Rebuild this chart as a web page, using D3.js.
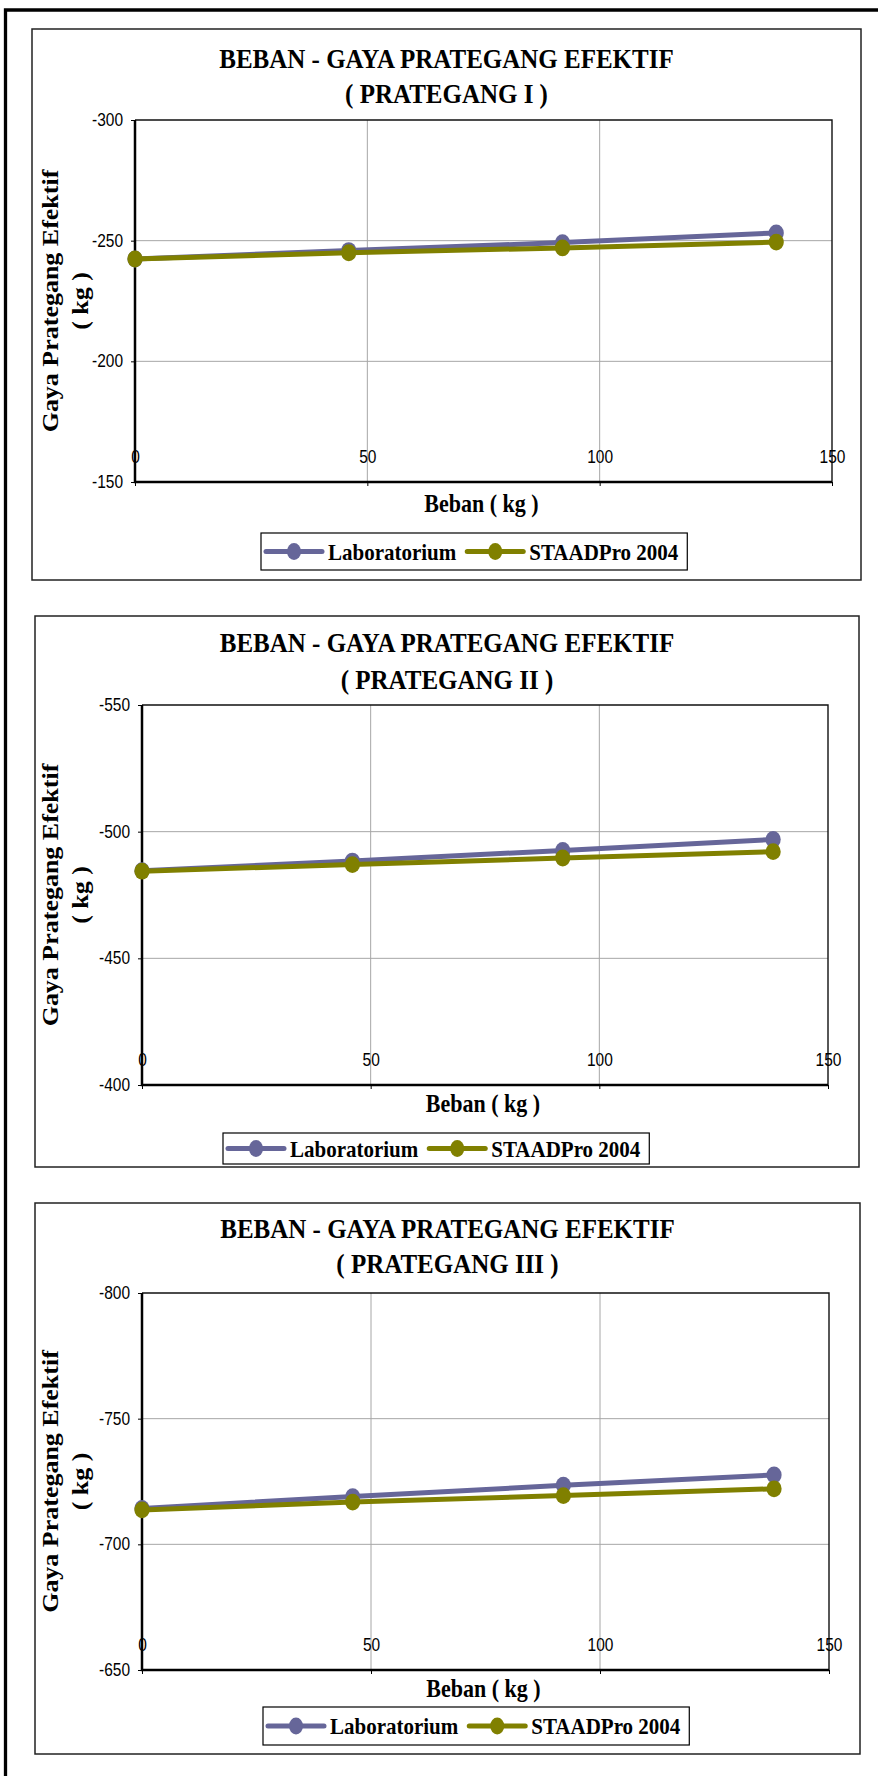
<!DOCTYPE html>
<html>
<head>
<meta charset="utf-8">
<script src="https://cdn.jsdelivr.net/npm/d3@7"></script>
<style>
  body { margin: 0; background: #fff; }
  svg { display: block; }
</style>
</head>
<body>
<svg id="chart"></svg>
<script>
const width = 878;
const height = 1776;

// data
const beban = [0, 46, 92, 138];
const xTicks = [0, 50, 100, 150];
const seriesNames = ["Laboratorium", "STAADPro 2004"];
const seriesColors = ["#666699", "#808000"];
const chartTitle = "BEBAN - GAYA PRATEGANG EFEKTIF";
const subTitles = ["( PRATEGANG I )", "( PRATEGANG II )", "( PRATEGANG III )"];
const xTitle = "Beban ( kg )";
const yTitle = ["Gaya Prategang Efektif", "( kg )"];

const yTicks1 = [-300, -250, -200, -150];
const yTicks2 = [-550, -500, -450, -400];
const yTicks3 = [-800, -750, -700, -650];

const lab1 = [-242.4, -245.9, -249.2, -253.2];
const staad1 = [-242.4, -245.0, -247.0, -249.4];
const lab2 = [-484.6, -488.4, -492.6, -496.9];
const staad2 = [-484.4, -487.0, -489.6, -492.1];
const lab3 = [-714.3, -719.0, -723.5, -727.6];
const staad3 = [-713.7, -716.8, -719.4, -722.1];

// layout of the three panels
const panels = [
  { box: {x: 32, y: 29, w: 829, h: 551}, plot: {l: 135, t: 120, r: 832, b: 482},
    titleY: [68, 103], xTitleY: 512, legend: {x: 261, y: 533, h: 37},
    yTicks: yTicks1, series: [lab1, staad1], sub: subTitles[0] },
  { box: {x: 35, y: 616, w: 824, h: 551}, plot: {l: 142, t: 705, r: 828, b: 1085},
    titleY: [652, 689], xTitleY: 1112, legend: {x: 223, y: 1133, h: 31},
    yTicks: yTicks2, series: [lab2, staad2], sub: subTitles[1] },
  { box: {x: 35, y: 1203, w: 825, h: 551}, plot: {l: 142, t: 1293, r: 829, b: 1670},
    titleY: [1238, 1273], xTitleY: 1697, legend: {x: 263, y: 1707, h: 38},
    yTicks: yTicks3, series: [lab3, staad3], sub: subTitles[2] }
];

const SY = 1.13; // the original picture is a bit stretched vertically
const serif = "'Times New Roman', 'Liberation Serif', serif";
const sans = "Arial, 'Liberation Sans', sans-serif";

const svg = d3.select('svg#chart').attr('width', width).attr('height', height);

// outer page frame (left and top only)
svg.append('path')
  .attr('d', 'M5.5,' + height + ' V10 H' + width)
  .attr('fill', 'none').attr('stroke', '#000').attr('stroke-width', 3.3);

function stretchText(g, x, y, str, size, family, weight, anchor) {
  return g.append('text')
    .attr('transform', 'translate(' + x + ',' + y + ') scale(1,' + SY + ')')
    .attr('font-family', family).attr('font-size', size)
    .attr('font-weight', weight).attr('text-anchor', anchor)
    .attr('fill', '#000')
    .text(str);
}

panels.forEach(p => {
  const g = svg.append('g');
  const b = p.box, pl = p.plot;

  g.append('rect')
    .attr('x', b.x).attr('y', b.y).attr('width', b.w).attr('height', b.h)
    .attr('fill', '#fff').attr('stroke', '#222').attr('stroke-width', 1.5);

  const x = d3.scaleLinear().domain([xTicks[0], xTicks[xTicks.length - 1]]).range([pl.l, pl.r]);
  const y = d3.scaleLinear()
    .domain([p.yTicks[p.yTicks.length - 1], p.yTicks[0]])
    .range([pl.b, pl.t]);

  // gridlines
  g.append('g').selectAll('line.hg').data(p.yTicks.slice(1, -1)).enter().append('line')
    .attr('x1', pl.l).attr('x2', pl.r)
    .attr('y1', d => y(d)).attr('y2', d => y(d))
    .attr('stroke', '#a6a6a6').attr('stroke-width', 1);
  g.append('g').selectAll('line.vg').data(xTicks.slice(1, -1)).enter().append('line')
    .attr('x1', d => x(d)).attr('x2', d => x(d))
    .attr('y1', pl.t).attr('y2', pl.b)
    .attr('stroke', '#a6a6a6').attr('stroke-width', 1);

  // plot border top / right
  g.append('path')
    .attr('d', 'M' + pl.l + ',' + pl.t + ' H' + pl.r + ' V' + pl.b)
    .attr('fill', 'none').attr('stroke', '#111').attr('stroke-width', 1.4);

  // y axis
  const ya = g.append('g').attr('transform', 'translate(' + pl.l + ',0)')
    .call(d3.axisLeft(y).tickValues(p.yTicks).tickSize(4).tickPadding(8).tickFormat(d => String(d)));
  ya.select('.domain').remove();
  ya.selectAll('.tick line').attr('stroke', '#000');
  ya.selectAll('.tick text')
    .attr('font-family', sans).attr('font-size', 15.5).attr('fill', '#000')
    .attr('transform', 'scale(1,' + SY + ')');

  // x tick marks below the axis
  const xm = g.append('g').attr('transform', 'translate(0,' + pl.b + ')')
    .call(d3.axisBottom(x).tickValues(xTicks).tickSize(4).tickFormat(''));
  xm.select('.domain').remove();
  xm.selectAll('.tick line').attr('stroke', '#000');

  // x labels sit just above the axis line
  const xl = g.append('g').attr('transform', 'translate(0,' + pl.b + ')')
    .call(d3.axisTop(x).tickValues(xTicks).tickSize(0).tickPadding(19).tickFormat(d => String(d)));
  xl.select('.domain').remove();
  xl.selectAll('.tick text')
    .attr('font-family', sans).attr('font-size', 15.5).attr('fill', '#000')
    .attr('y', -19 / SY)
    .attr('transform', 'scale(1,' + SY + ')');

  // axis lines
  g.append('path')
    .attr('d', 'M' + pl.l + ',' + pl.t + ' V' + pl.b + ' H' + pl.r)
    .attr('fill', 'none').attr('stroke', '#000').attr('stroke-width', 2.5);

  // series
  p.series.forEach((vals, i) => {
    const pts = beban.map((d, j) => [d, vals[j]]);
    g.append('path')
      .datum(pts)
      .attr('d', d3.line().x(d => x(d[0])).y(d => y(d[1])))
      .attr('fill', 'none').attr('stroke', seriesColors[i]).attr('stroke-width', 5)
      .attr('stroke-linejoin', 'round');
    g.append('g').selectAll('ellipse').data(pts).enter().append('ellipse')
      .attr('cx', d => x(d[0])).attr('cy', d => y(d[1]))
      .attr('rx', 7.6).attr('ry', 8.4)
      .attr('fill', seriesColors[i]);
  });

  // titles
  const cx = b.x + b.w / 2;
  stretchText(g, cx, p.titleY[0], chartTitle, 25, serif, 'bold', 'middle');
  stretchText(g, cx, p.titleY[1], p.sub, 25, serif, 'bold', 'middle');
  stretchText(g, (pl.l + pl.r) / 2 - 2, p.xTitleY, xTitle, 22, serif, 'bold', 'middle');

  const cy = (pl.t + pl.b) / 2;
  [58, 88].forEach((lx, i) => {
    g.append('text')
      .attr('transform', 'translate(' + lx + ',' + cy + ') scale(1,' + SY + ') rotate(-90)')
      .attr('font-family', serif).attr('font-size', 23).attr('font-weight', 'bold')
      .attr('text-anchor', 'middle').attr('fill', '#000')
      .text(yTitle[i]);
  });

  // legend
  const L = p.legend;
  const lg = g.append('g');
  const box = lg.append('rect')
    .attr('x', L.x).attr('y', L.y).attr('height', L.h)
    .attr('fill', '#fff').attr('stroke', '#000').attr('stroke-width', 1.2);
  const my = L.y + L.h / 2;
  let cur = L.x + 5;
  seriesNames.forEach((name, i) => {
    lg.append('line')
      .attr('x1', cur).attr('x2', cur + 56).attr('y1', my).attr('y2', my)
      .attr('stroke', seriesColors[i]).attr('stroke-width', 5).attr('stroke-linecap', 'round');
    lg.append('ellipse')
      .attr('cx', cur + 28).attr('cy', my).attr('rx', 7).attr('ry', 8.4)
      .attr('fill', seriesColors[i]);
    const t = stretchText(lg, cur + 62, my + 8, name, 21, serif, 'bold', 'start');
    cur = cur + 62 + t.node().getComputedTextLength() + 11;
  });
  box.attr('width', cur - 11 + 9 - L.x);
});
</script>
</body>
</html>
